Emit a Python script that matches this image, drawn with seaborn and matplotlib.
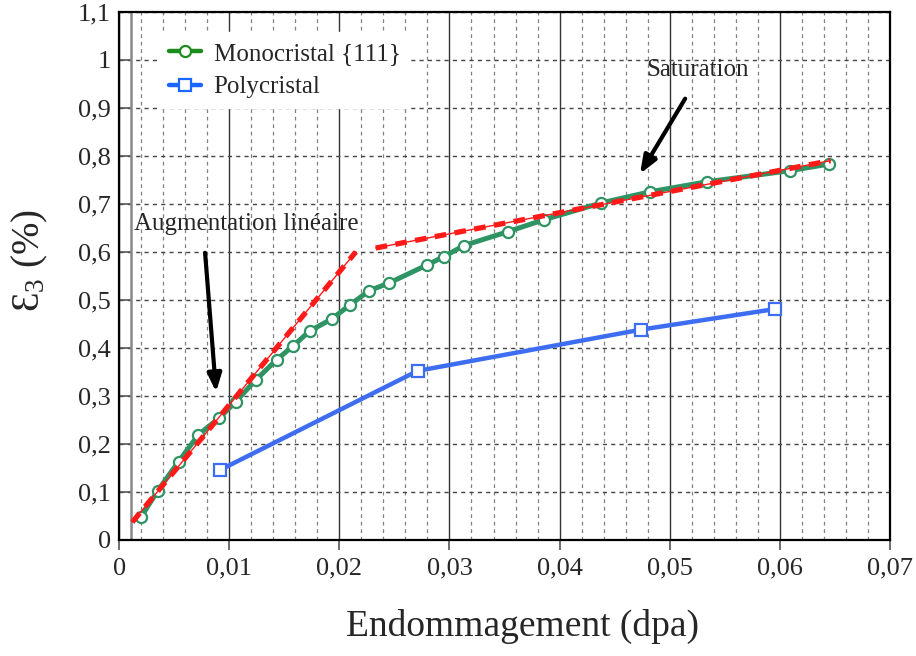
import matplotlib
matplotlib.use("Agg")
import matplotlib.pyplot as plt
import seaborn as sns
import numpy as np
import pandas as pd
from matplotlib.lines import Line2D
from matplotlib.ticker import MultipleLocator, FixedLocator

# ---------------- data ----------------
mono_x = [0.0020, 0.0035, 0.0054, 0.0072, 0.0091, 0.0106, 0.0124, 0.0143, 0.0158,
          0.0173, 0.0193, 0.0210, 0.0227, 0.0245, 0.0280, 0.0295, 0.0313, 0.0353,
          0.0386, 0.0438, 0.0482, 0.0534, 0.0609, 0.0645]
mono_y = [0.048, 0.102, 0.163, 0.219, 0.254, 0.288, 0.333, 0.375, 0.404,
          0.435, 0.460, 0.490, 0.519, 0.535, 0.573, 0.590, 0.613, 0.642,
          0.667, 0.702, 0.725, 0.746, 0.769, 0.783]
poly_x = [0.0092, 0.0271, 0.0474, 0.0596]
poly_y = [0.146, 0.352, 0.438, 0.481]

fit1_x = [0.0012, 0.0215]
fit1_y = [0.037, 0.600]
fit2_x = [0.0233, 0.0646]
fit2_y = [0.608, 0.790]

series_labels = ["Monocristal {111}", "Polycristal"]
xtick_vals = [0, 0.01, 0.02, 0.03, 0.04, 0.05, 0.06, 0.07]
xtick_labels = ["0", "0,01", "0,02", "0,03", "0,04", "0,05", "0,06", "0,07"]
ytick_vals = [0, 0.1, 0.2, 0.3, 0.4, 0.5, 0.6, 0.7, 0.8, 0.9, 1.0, 1.1]
ytick_labels = ["0", "0,1", "0,2", "0,3", "0,4", "0,5", "0,6", "0,7", "0,8", "0,9", "1", "1,1"]

# ---------------- style ----------------
sns.set_theme(style="white")
plt.rcParams["font.family"] = ["Liberation Serif", "DejaVu Serif"]
plt.rcParams["mathtext.fontset"] = "custom"
plt.rcParams["mathtext.rm"] = "Liberation Serif"
plt.rcParams["mathtext.it"] = "Liberation Serif:italic"

GREEN = "#2e9463"
BLUE = "#3d6ef2"
RED = "#ff1a1a"

fig = plt.figure(figsize=(9.16, 6.56), dpi=100)
ax = fig.add_axes([0.130, 0.177, 0.8416, 0.805])

ax.set_xlim(0, 0.07)
ax.set_ylim(0, 1.1)

# grid
ax.xaxis.set_major_locator(FixedLocator(xtick_vals))
ax.xaxis.set_minor_locator(MultipleLocator(0.002))
ax.yaxis.set_major_locator(FixedLocator(ytick_vals))
ax.grid(which="major", axis="x", color="#333333", lw=1.0, ls="-")
ax.grid(which="minor", axis="x", color="#808080", lw=0.9, ls=(0, (3, 3)))
ax.grid(which="major", axis="y", color="#444444", lw=1.0, ls=(0, (3, 3)))
ax.axvline(0.0011, color="#888888", lw=1.8, zorder=1)
ax.set_axisbelow(True)

# red fit lines (thin solid + thick dashes)
for fx, fy in [(fit1_x, fit1_y), (fit2_x, fit2_y)]:
    ax.plot(fx, fy, color=RED, lw=1.0, zorder=4)
    ax.plot(fx, fy, color=RED, lw=3.8, ls=(0, (2.2, 1.6)), zorder=4)

# data via seaborn
df_m = pd.DataFrame({"x": mono_x, "y": mono_y})
df_p = pd.DataFrame({"x": poly_x, "y": poly_y})
sns.lineplot(data=df_m, x="x", y="y", ax=ax, color=GREEN, lw=3.6, marker="o",
             markersize=8, markerfacecolor="white", markeredgecolor=GREEN,
             markeredgewidth=1.6, zorder=3)
sns.lineplot(data=df_p, x="x", y="y", ax=ax, color=BLUE, lw=3.2, marker="s",
             markersize=9, markerfacecolor="white", markeredgecolor=BLUE,
             markeredgewidth=1.6, zorder=3)

# ticks
ax.set_xticklabels(xtick_labels)
ax.set_yticklabels(ytick_labels)
ax.tick_params(axis="x", which="major", direction="out", length=7, width=1.2,
               color="#555555", labelsize=19, pad=6)
ax.tick_params(axis="y", which="major", direction="in", length=9, width=1.2,
               color="#555555", labelsize=19, pad=6, left=True)
ax.tick_params(which="minor", length=0)
ax.tick_params(axis="x", bottom=True)

for s in ax.spines.values():
    s.set_color("black")
    s.set_linewidth(1.6)

# labels
ax.set_xlabel("Endommagement (dpa)", fontsize=27)
ax.xaxis.set_label_coords(0.523, -0.13)
ax.set_ylabel(r"Ɛ$_3$ (%)", fontsize=28)
ax.yaxis.set_label_coords(-0.09, 0.528)

# annotations
ax.text(0.00136, 0.658, "Augmentation linéaire", fontsize=18, ha="left", va="center", zorder=6)
ax.text(0.0525, 0.979, "Saturation", fontsize=18, ha="center", va="center", zorder=6)
ax.annotate("", xy=(0.00881, 0.308), xytext=(0.00781, 0.598),
            arrowprops=dict(arrowstyle="-|>,head_length=0.9,head_width=0.35",
                            color="black", lw=3.0, shrinkA=0, shrinkB=0), zorder=6)
ax.annotate("", xy=(0.0473, 0.7625), xytext=(0.0514, 0.919),
            arrowprops=dict(arrowstyle="-|>,head_length=0.9,head_width=0.35",
                            color="black", lw=3.0, shrinkA=0, shrinkB=0), zorder=6)

# legend
handles = [
    Line2D([], [], color="#1c8c1c", lw=3.2, marker="o", markersize=8,
           markerfacecolor="white", markeredgecolor="#1c8c1c", markeredgewidth=1.6),
    Line2D([], [], color="#1a66ff", lw=3.2, marker="s", markersize=9,
           markerfacecolor="white", markeredgecolor="#1a66ff", markeredgewidth=1.6),
]
leg = ax.legend(handles, series_labels, loc="upper left",
                bbox_to_anchor=(0.035, 0.985), fontsize=18, frameon=True,
                handlelength=1.3, handletextpad=0.5, labelspacing=0.45,
                borderpad=0.4, fancybox=False)
leg.get_frame().set_facecolor("white")
leg.get_frame().set_edgecolor("white")
leg.get_frame().set_alpha(1.0)
leg.set_zorder(7)

fig.savefig("out.png", dpi=100)
